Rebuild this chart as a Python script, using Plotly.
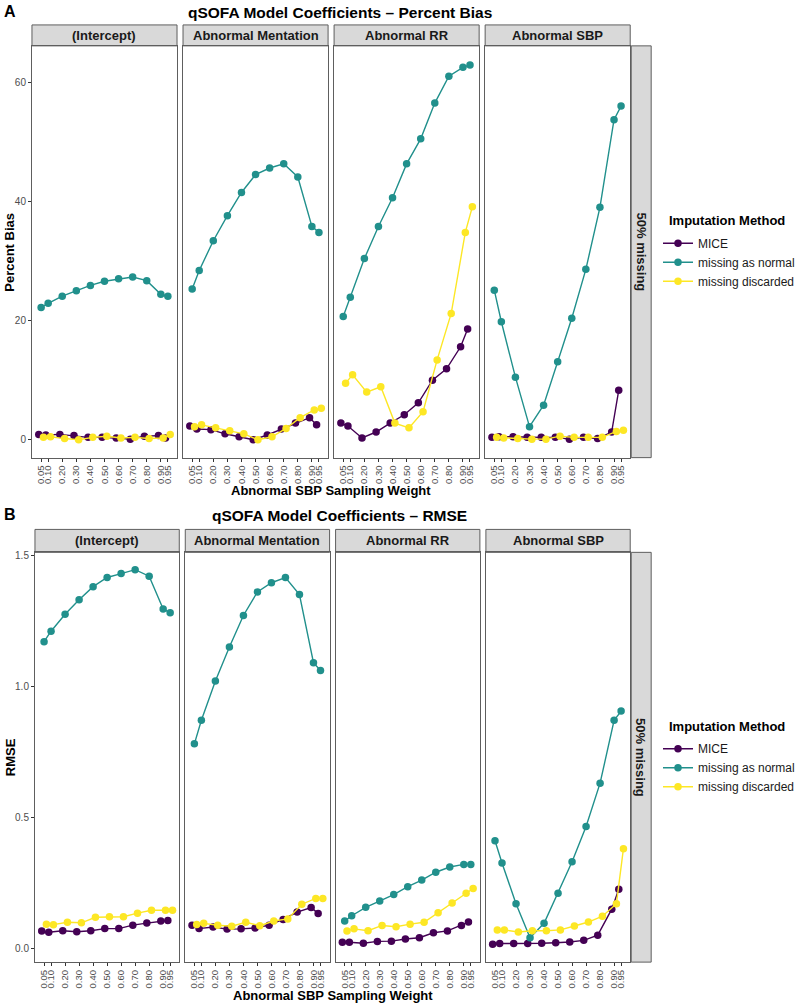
import plotly.graph_objects as go

# ---------------- data ----------------
weights = [0.05, 0.10, 0.20, 0.30, 0.40, 0.50, 0.60, 0.70, 0.80, 0.90, 0.95]
weight_labels = ["0.05", "0.10", "0.20", "0.30", "0.40", "0.50", "0.60", "0.70", "0.80", "0.90", "0.95"]
coefficients = ["(Intercept)", "Abnormal Mentation", "Abnormal RR", "Abnormal SBP"]
methods = ["MICE", "missing as normal", "missing discarded"]
method_colors = ["#440154", "#21908C", "#FDE725"]

# Percent bias
bias_intercept_mice = [0.9, 0.8, 0.9, 0.7, 0.4, 0.4, 0.3, 0.1, 0.6, 0.7, 0.3]
bias_intercept_normal = [22.2, 22.9, 24.1, 25.0, 25.9, 26.6, 27.0, 27.3, 26.7, 24.4, 24.1]
bias_intercept_discarded = [0.4, 0.5, 0.2, 0.0, 0.4, 0.6, 0.3, 0.4, 0.2, 0.3, 0.9]

bias_mentation_mice = [2.3, 1.8, 1.7, 1.0, 0.5, 0.0, 0.8, 1.8, 2.8, 3.7, 2.5]
bias_mentation_normal = [25.3, 28.4, 33.4, 37.6, 41.5, 44.5, 45.6, 46.3, 44.1, 35.8, 34.8]
bias_mentation_discarded = [2.2, 2.5, 2.0, 1.5, 1.0, 0.0, 0.5, 1.9, 3.7, 5.0, 5.3]

bias_rr_mice = [2.8, 2.3, 0.3, 1.3, 2.8, 4.2, 6.2, 10.0, 11.9, 15.6, 18.6]
bias_rr_normal = [20.7, 23.9, 30.4, 35.8, 40.6, 46.3, 50.5, 56.5, 61.0, 62.5, 62.9]
bias_rr_discarded = [9.5, 10.9, 8.0, 8.9, 2.8, 2.0, 4.7, 13.4, 21.2, 34.8, 39.1]

bias_sbp_mice = [0.4, 0.5, 0.5, 0.4, 0.4, 0.4, 0.1, 0.4, 0.2, 1.3, 8.3]
bias_sbp_normal = [25.1, 19.8, 10.5, 2.2, 5.8, 13.1, 20.4, 28.6, 39.0, 53.7, 56.0]
bias_sbp_discarded = [0.4, 0.3, 0.2, 0.1, 0.1, 0.6, 0.4, 0.4, 0.4, 1.4, 1.6]

# RMSE
rmse_intercept_mice = [0.066, 0.061, 0.067, 0.063, 0.067, 0.075, 0.075, 0.088, 0.096, 0.104, 0.106]
rmse_intercept_normal = [1.17, 1.21, 1.275, 1.33, 1.38, 1.415, 1.43, 1.445, 1.42, 1.295, 1.28]
rmse_intercept_discarded = [0.092, 0.090, 0.099, 0.097, 0.118, 0.120, 0.120, 0.134, 0.145, 0.145, 0.145]

rmse_mentation_mice = [0.088, 0.075, 0.081, 0.073, 0.074, 0.077, 0.088, 0.110, 0.138, 0.155, 0.133]
rmse_mentation_normal = [0.78, 0.87, 1.02, 1.15, 1.27, 1.36, 1.395, 1.415, 1.35, 1.09, 1.06]
rmse_mentation_discarded = [0.091, 0.095, 0.088, 0.084, 0.099, 0.086, 0.104, 0.112, 0.168, 0.19, 0.19]

rmse_rr_mice = [0.023, 0.023, 0.019, 0.026, 0.027, 0.035, 0.040, 0.059, 0.066, 0.087, 0.100]
rmse_rr_normal = [0.104, 0.124, 0.156, 0.18, 0.205, 0.235, 0.26, 0.29, 0.31, 0.32, 0.32]
rmse_rr_discarded = [0.066, 0.074, 0.067, 0.087, 0.082, 0.092, 0.099, 0.135, 0.173, 0.21, 0.228]

rmse_sbp_mice = [0.015, 0.018, 0.018, 0.018, 0.019, 0.021, 0.024, 0.030, 0.050, 0.149, 0.225]
rmse_sbp_normal = [0.41, 0.325, 0.17, 0.040, 0.095, 0.21, 0.33, 0.465, 0.63, 0.87, 0.905]
rmse_sbp_discarded = [0.070, 0.070, 0.062, 0.067, 0.067, 0.070, 0.085, 0.100, 0.122, 0.17, 0.38]

bias_panels = [
    [bias_intercept_mice, bias_intercept_normal, bias_intercept_discarded],
    [bias_mentation_mice, bias_mentation_normal, bias_mentation_discarded],
    [bias_rr_mice, bias_rr_normal, bias_rr_discarded],
    [bias_sbp_mice, bias_sbp_normal, bias_sbp_discarded],
]
rmse_panels = [
    [rmse_intercept_mice, rmse_intercept_normal, rmse_intercept_discarded],
    [rmse_mentation_mice, rmse_mentation_normal, rmse_mentation_discarded],
    [rmse_rr_mice, rmse_rr_normal, rmse_rr_discarded],
    [rmse_sbp_mice, rmse_sbp_normal, rmse_sbp_discarded],
]

# ---------------- layout helpers ----------------
W, H = 800, 1003
FONT = "Liberation Sans, Arial, Helvetica, sans-serif"
BORDER = "#5E5E5E"
TICKC = "#333333"
DODGE = 0.05 / 3


def px(x):
    return x / W


def py(y):
    return 1 - y / H


rows = [
    dict(data=bias_panels, left=32, right=631, strip_top=22, top=43, bottom=456,
         yrange=[-3.0, 66.1], ytickvals=[0, 20, 40, 60], yticktext=["0", "20", "40", "60"],
         ytitle="Percent Bias", title="qSOFA Model Coefficients \u2013 Percent Bias",
         letter="A", title_y=10, xtitle_y=489, legend="legend"),
    dict(data=rmse_panels, left=35, right=631, strip_top=528, top=551, bottom=962,
         yrange=[-0.053, 1.511], ytickvals=[0, 0.5, 1.0, 1.5], yticktext=["0.0", "0.5", "1.0", "1.5"],
         ytitle="RMSE", title="qSOFA Model Coefficients \u2013 RMSE",
         letter="B", title_y=514, xtitle_y=995, legend="legend2"),
]

fig = go.Figure()
shapes = []
annotations = []
layout_axes = {}
GAP = 6

for r, row in enumerate(rows):
    pw = (row["right"] - row["left"] - 3 * GAP) / 4
    for c in range(4):
        idx = r * 4 + c + 1
        x0 = row["left"] + c * (pw + GAP)
        x1 = x0 + pw
        xa = "xaxis" if idx == 1 else f"xaxis{idx}"
        ya = "yaxis" if idx == 1 else f"yaxis{idx}"
        xref = "x" if idx == 1 else f"x{idx}"
        yref = "y" if idx == 1 else f"y{idx}"
        layout_axes[xa] = dict(
            domain=[px(x0), px(x1)], anchor=yref, range=[-0.015, 1.015],
            tickvals=weights, ticktext=weight_labels, tickangle=-90,
            ticks="outside", ticklen=3, tickwidth=1, tickcolor=TICKC,
            showline=True, mirror=True, linecolor=BORDER, linewidth=1,
            showgrid=False, zeroline=False,
            tickfont=dict(family=FONT, size=9.5, color="#4D4D4D"),
        )
        layout_axes[ya] = dict(
            domain=[py(row["bottom"]), py(row["top"])], anchor=xref, range=row["yrange"],
            tickvals=row["ytickvals"], ticktext=row["yticktext"],
            ticks="outside" if c == 0 else "", ticklen=3, tickwidth=1, tickcolor=TICKC,
            showticklabels=(c == 0),
            showline=True, mirror=True, linecolor=BORDER, linewidth=1,
            showgrid=False, zeroline=False,
            tickfont=dict(family=FONT, size=10, color="#4D4D4D"),
        )
        # strip on top
        shapes.append(dict(type="rect", xref="paper", yref="paper",
                           x0=px(x0), x1=px(x1), y0=py(row["top"]), y1=py(row["strip_top"]),
                           fillcolor="#D9D9D9", line=dict(color=BORDER, width=1), layer="below"))
        annotations.append(dict(text=f"<b>{coefficients[c]}</b>", xref="paper", yref="paper",
                                x=px((x0 + x1) / 2), y=py((row["top"] + row["strip_top"]) / 2),
                                showarrow=False, xanchor="center", yanchor="middle",
                                font=dict(family=FONT, size=13, color="#1A1A1A")))
        for m, method in enumerate(methods):
            vals = row["data"][c][m]
            xs = [w + (m - 1) * DODGE for w in weights]
            fig.add_trace(go.Scatter(
                x=xs, y=vals, xaxis=xref, yaxis=yref, mode="lines+markers", name=method,
                line=dict(color=method_colors[m], width=1.4),
                marker=dict(color=method_colors[m], size=7.5),
                legend=row["legend"], showlegend=(c == 0),
            ))
    # right strip
    shapes.append(dict(type="rect", xref="paper", yref="paper",
                       x0=px(row["right"] + 1), x1=px(row["right"] + 21),
                       y0=py(row["bottom"]), y1=py(row["top"]),
                       fillcolor="#D9D9D9", line=dict(color=BORDER, width=1), layer="below"))
    annotations.append(dict(text="<b>50% missing</b>", xref="paper", yref="paper",
                            x=px(row["right"] + 11), y=py((row["top"] + row["bottom"]) / 2),
                            showarrow=False, textangle=90, xanchor="center", yanchor="middle",
                            font=dict(family=FONT, size=13, color="#1A1A1A")))
    # y axis title
    annotations.append(dict(text=f"<b>{row['ytitle']}</b>", xref="paper", yref="paper",
                            x=px(10), y=py((row["top"] + row["bottom"]) / 2),
                            showarrow=False, textangle=-90, xanchor="center", yanchor="middle",
                            font=dict(family=FONT, size=13, color="black")))
    # x axis title
    annotations.append(dict(text="<b>Abnormal SBP Sampling Weight</b>", xref="paper", yref="paper",
                            x=px((row["left"] + row["right"]) / 2), y=py(row["xtitle_y"]),
                            showarrow=False, xanchor="center", yanchor="middle",
                            font=dict(family=FONT, size=13, color="black")))
    # plot title and panel letter
    annotations.append(dict(text=f"<b>{row['title']}</b>", xref="paper", yref="paper",
                            x=px(340), y=py(row["title_y"]),
                            showarrow=False, xanchor="center", yanchor="middle",
                            font=dict(family=FONT, size=15.5, color="black")))
    annotations.append(dict(text=f"<b>{row['letter']}</b>", xref="paper", yref="paper",
                            x=px(10), y=py(row["title_y"] - 1),
                            showarrow=False, xanchor="center", yanchor="middle",
                            font=dict(family=FONT, size=16, color="black")))
    # legend title
    mid = (row["top"] + row["bottom"]) / 2
    annotations.append(dict(text="<b>Imputation Method</b>", xref="paper", yref="paper",
                            x=px(668), y=py(mid - 31),
                            showarrow=False, xanchor="left", yanchor="middle",
                            font=dict(family=FONT, size=13, color="black")))
    layout_axes[row["legend"]] = dict(
        x=px(659), y=py(mid - 23), xanchor="left", yanchor="top",
        bgcolor="rgba(0,0,0,0)", borderwidth=0, tracegroupgap=0,
        font=dict(family=FONT, size=12, color="#1A1A1A"), itemwidth=30,
    )

fig.update_layout(
    width=W, height=H, autosize=False,
    margin=dict(l=0, r=0, t=0, b=0),
    paper_bgcolor="white", plot_bgcolor="white",
    shapes=shapes, annotations=annotations,
    font=dict(family=FONT),
    **layout_axes,
)

fig.write_html("out.html", config={"displayModeBar": False},
               post_script="document.body.style.margin='0px';")
